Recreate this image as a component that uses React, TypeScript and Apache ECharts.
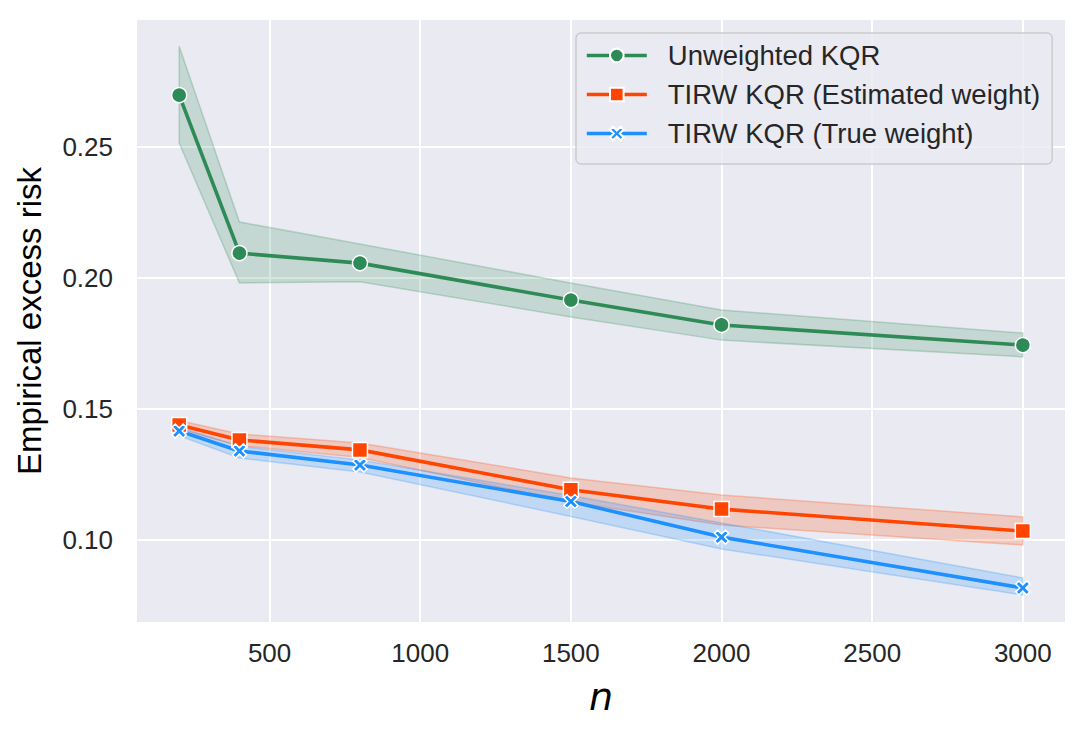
import { useEffect, useRef } from "react";
import * as echarts from "echarts";

const nValues = [200, 400, 800, 1500, 2000, 3000];

const unweightedMean = [0.2698, 0.2095, 0.2057, 0.1916, 0.1821, 0.1744];
const unweightedLower = [0.2515, 0.1981, 0.1986, 0.1851, 0.1763, 0.1699];
const unweightedUpper = [0.2885, 0.2214, 0.2130, 0.1981, 0.1878, 0.1790];

const estimatedMean = [0.1439, 0.1382, 0.1344, 0.1192, 0.1118, 0.1034];
const estimatedLower = [0.1423, 0.1360, 0.1315, 0.1145, 0.1057, 0.0981];
const estimatedUpper = [0.1456, 0.1405, 0.1370, 0.1237, 0.1172, 0.1088];

const trueMean = [0.1416, 0.1340, 0.1286, 0.1147, 0.1011, 0.0817];
const trueLower = [0.1398, 0.1313, 0.1260, 0.1090, 0.0966, 0.0790];
const trueUpper = [0.1430, 0.1358, 0.1305, 0.1170, 0.1065, 0.0855];

const xTicks = [500, 1000, 1500, 2000, 2500, 3000];
const yTicks = [0.1, 0.15, 0.2, 0.25];

const seriesNames = [
  "Unweighted KQR",
  "TIRW KQR (Estimated weight)",
  "TIRW KQR (True weight)",
];

const X_PATH =
  "path://M0,2.2 L2.2,0 L5,2.8 L7.8,0 L10,2.2 L7.2,5 L10,7.8 L7.8,10 L5,7.2 L2.2,10 L0,7.8 L2.8,5 Z";

const pairs = (ys: number[]) => nValues.map((x, i) => [x, ys[i]]);

function bandSeries(lo: number[], hi: number[], rgb: string) {
  return {
    type: "custom",
    silent: true,
    z: 1,
    data: [[nValues[0], lo[0]]],
    renderItem: (_params: any, api: any) => {
      const top = nValues.map((x, i) => api.coord([x, hi[i]]));
      const bottom = nValues.map((x, i) => api.coord([x, lo[i]])).reverse();
      return {
        type: "polygon",
        shape: { points: top.concat(bottom) },
        style: {
          fill: `rgba(${rgb},0.2)`,
          stroke: `rgba(${rgb},0.25)`,
          lineWidth: 1.5,
        },
      };
    },
  };
}

function mainSeries(name: string, ys: number[], color: string, symbol: string, size: number) {
  return {
    name,
    type: "line",
    data: pairs(ys),
    symbol,
    symbolSize: size,
    lineStyle: { color, width: 3.6 },
    itemStyle: { color, borderColor: "#ffffff", borderWidth: 1.5 },
    z: 3,
  };
}

export default function App() {
  const ref = useRef<HTMLDivElement>(null);
  useEffect(() => {
    if (!ref.current) return;
    const chart = echarts.init(ref.current, undefined, { renderer: "svg" });
    const font = "Liberation Sans, Arial, sans-serif";
    chart.setOption({
      animation: false,
      backgroundColor: "#ffffff",
      textStyle: { fontFamily: font },
      grid: {
        left: 137,
        right: 20,
        top: 20,
        bottom: 116,
        show: true,
        backgroundColor: "#EAEAF2",
        borderWidth: 0,
      },
      legend: {
        data: seriesNames,
        orient: "vertical",
        left: 576,
        top: 33,
        padding: [7, 12, 15, 9],
        itemWidth: 60,
        itemHeight: 17,
        itemGap: 8,
        backgroundColor: "rgba(234,234,242,0.8)",
        borderColor: "#cccccc",
        borderWidth: 1.5,
        borderRadius: 5,
        lineStyle: { width: 3.6 },
        textStyle: {
          fontSize: 27.5,
          color: "#262626",
          fontFamily: font,
          lineHeight: 31,
          padding: [0, 0, 0, 16],
        },
      },
      xAxis: {
        type: "value",
        min: 60,
        max: 3140,
        name: "n",
        nameLocation: "middle",
        nameGap: 56,
        nameTextStyle: {
          fontSize: 38,
          fontStyle: "italic",
          fontFamily: "DejaVu Sans",
          color: "#000000",
        },
        axisLine: { show: false },
        axisTick: { show: false, customValues: xTicks },
        axisLabel: {
          customValues: xTicks,
          fontSize: 26,
          color: "#262626",
          margin: 18,
          fontFamily: font,
          formatter: (v: number) => String(v),
        },
        splitLine: { show: true, lineStyle: { color: "#ffffff", width: 2 } },
      },
      yAxis: {
        type: "value",
        min: 0.0687,
        max: 0.2985,
        name: "Empirical excess risk",
        nameLocation: "middle",
        nameRotate: 90,
        nameGap: 91,
        nameTextStyle: { fontSize: 33, color: "#000000", fontFamily: font },
        axisLine: { show: false },
        axisTick: { show: false, customValues: yTicks },
        axisLabel: {
          customValues: yTicks,
          fontSize: 26,
          color: "#262626",
          margin: 24,
          fontFamily: font,
          formatter: (v: number) => v.toFixed(2),
        },
        splitLine: { show: true, lineStyle: { color: "#ffffff", width: 2 } },
      },
      series: [
        bandSeries(unweightedLower, unweightedUpper, "46,139,87"),
        bandSeries(estimatedLower, estimatedUpper, "255,69,0"),
        bandSeries(trueLower, trueUpper, "30,144,255"),
        mainSeries(seriesNames[0], unweightedMean, "#2E8B57", "circle", 15),
        mainSeries(seriesNames[1], estimatedMean, "#FF4500", "rect", 15),
        mainSeries(seriesNames[2], trueMean, "#1E90FF", X_PATH, 14),
      ],
    });
    return () => chart.dispose();
  }, []);
  return (
    <div
      ref={ref}
      style={{ position: "fixed", left: 0, top: 0, width: 1085, height: 738 }}
    />
  );
}
